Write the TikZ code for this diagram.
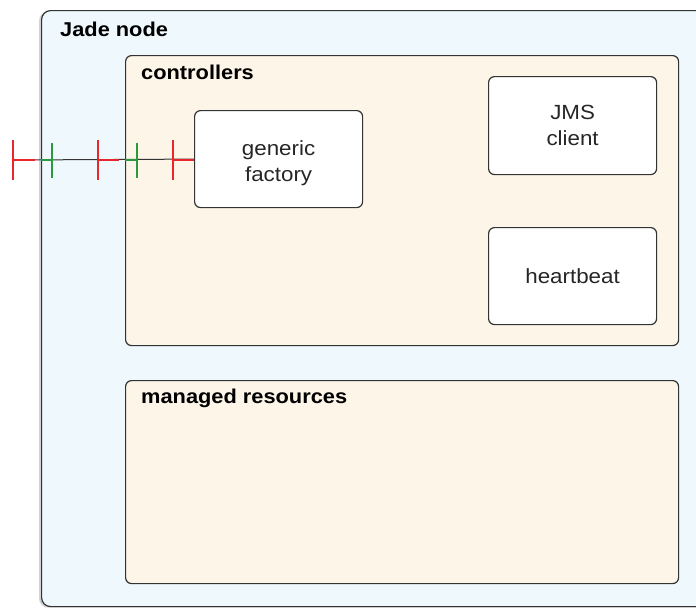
\documentclass[tikz,border=0pt]{standalone}
\usepackage{fontspec}
\setmainfont[FakeStretch=1.09]{Liberation Sans}
\usetikzlibrary{shadows}
\definecolor{outerfill}{HTML}{EEF8FD}
\definecolor{ctrlfill}{HTML}{FDF5E8}
\definecolor{edge}{HTML}{333333}
\definecolor{ired}{HTML}{E8262C}
\definecolor{igreen}{HTML}{2C9A3C}
\tikzset{
  x=1pt, y=-1pt,
  box/.style={draw=edge, line width=1.2pt, rounded corners=6pt, inner sep=0pt, anchor=north west},
  outerbox/.style={box, fill=outerfill, rounded corners=9pt, drop shadow={shadow xshift=-2.5pt, shadow yshift=-1pt, opacity=0.35}},
  ctrlbox/.style={box, fill=ctrlfill},
  compbox/.style={box, fill=white},
  title/.style={anchor=base west, inner sep=0pt, font=\fontsize{20}{24}\selectfont\bfseries},
  lbl/.style={inner sep=0pt, align=center, font=\fontsize{20.5}{26}\selectfont, text=black!85},
  redtick/.style={draw=ired, line width=2pt},
  greentick/.style={draw=igreen, line width=2pt},
}
\begin{document}
\begin{tikzpicture}
\clip (0,0) rectangle (696,608);
\fill[white] (0,0) rectangle (696,608);
% outer
\node[outerbox, minimum width=665pt, minimum height=596pt] (jade) at (41,10) {};
\node[title] (jadet) at (60,36) {Jade node};
% controllers
\node[ctrlbox, minimum width=553pt, minimum height=290pt] (ctrl) at (125,55) {};
\node[title] (ctrlt) at (141,79) {controllers};
% managed resources
\node[ctrlbox, minimum width=553pt, minimum height=203pt] (mr) at (125,380) {};
\node[title] (mrt) at (141,403) {managed resources};
% components
\node[compbox, minimum width=168pt, minimum height=97pt] (gf) at (194,110) {};
\node[lbl] (gft) at ([yshift=-4pt]gf.center) {generic\\factory};
\node[compbox, minimum width=168pt, minimum height=98pt] (jms) at (488,76) {};
\node[lbl] (jmst) at (jms.center) {JMS\\client};
\node[compbox, minimum width=168pt, minimum height=97pt] (hb) at (488,227) {};
\node[lbl] (hbt) at (hb.center) {heartbeat};
% interface line
\coordinate (pstart) at (12,160);
\draw[black!80, line width=1pt] (pstart) -- (gf.west);
% stubs
\draw[ired, line width=2pt] (13,160) -- (35,160);
\draw[igreen, line width=2pt] (41,160) -- (52,160);
\draw[ired, line width=2pt] (98,160) -- (119,160);
\draw[igreen, line width=2pt] (125,160) -- (137,160);
\draw[ired, line width=2pt] (173,160) -- (194,160);
% ticks
\draw[redtick] (13,140) -- (13,180);
\draw[greentick] (52,143) -- (52,178);
\draw[redtick] (98,140) -- (98,180);
\draw[greentick] (137,143) -- (137,178);
\draw[redtick] (173,140) -- (173,180);
\end{tikzpicture}
\end{document}
